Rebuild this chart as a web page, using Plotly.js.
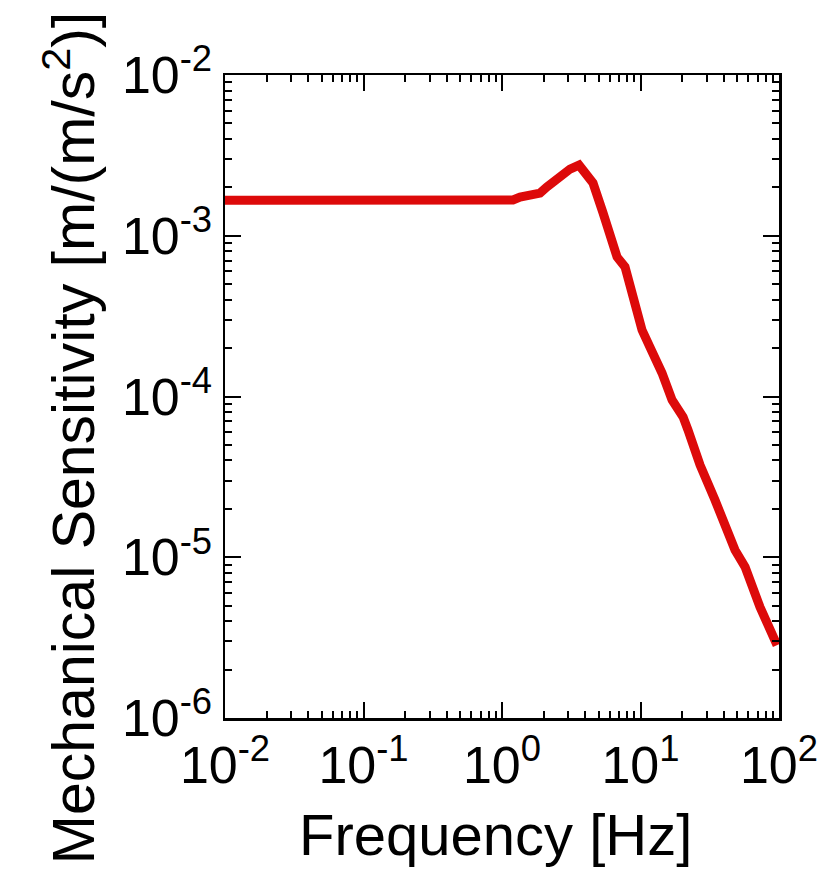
<!DOCTYPE html>
<html>
<head>
<meta charset="utf-8">
<script src="https://cdn.plot.ly/plotly-3.0.1.min.js"></script>
<style>html,body{margin:0;padding:0;background:#fff;}#chart{width:820px;height:872px;}</style>
</head>
<body>
<div id="chart"></div>
<script>
// Frequency [Hz]
var freq = [0.01, 0.02, 0.05, 0.1, 0.2, 0.5, 1.0, 1.20, 1.35, 1.59, 1.88, 2.11, 2.33, 2.62, 3.10, 3.60, 3.97, 4.54, 5.36, 6.33, 6.77, 7.73, 8.83, 10.26, 11.7, 14.3, 16.9, 20.3, 22.0, 26.9, 34.5, 42.2, 48.1, 56.9, 72.9, 96.8];
// Mechanical sensitivity [m/(m/s^2)]
var sens = [1.66e-3, 1.66e-3, 1.66e-3, 1.66e-3, 1.66e-3, 1.66e-3, 1.66e-3, 1.67e-3, 1.74e-3, 1.80e-3, 1.84e-3, 2.01e-3, 2.16e-3, 2.39e-3, 2.60e-3, 2.75e-3, 2.50e-3, 2.13e-3, 1.39e-3, 8.15e-4, 7.38e-4, 6.40e-4, 4.16e-4, 2.59e-4, 2.03e-4, 1.40e-4, 9.5e-5, 7.46e-5, 6.2e-5, 3.75e-5, 2.27e-5, 1.42e-5, 1.11e-5, 8.7e-6, 4.9e-6, 2.84e-6];

var xTickVals = [0.01, 0.1, 1, 10, 100];
var xTickText = ['10<sup>-2</sup>', '10<sup>-1</sup>', '10<sup>0</sup>', '10<sup>1</sup>', '10<sup>2</sup>'];
var yTickVals = [1e-6, 1e-5, 1e-4, 1e-3, 1e-2];
var yTickText = ['10<sup>-6</sup>', '10<sup>-5</sup>', '10<sup>-4</sup>', '10<sup>-3</sup>', '10<sup>-2</sup>'];
var xTitle = 'Frequency [Hz]';
var yTitle = 'Mechanical Sensitivity [m/(m/s<sup>2</sup>)]';

function minorVals(lo, hi) {
  var v = [];
  for (var e = lo; e < hi; e++) {
    for (var m = 2; m <= 9; m++) v.push(m * Math.pow(10, e));
  }
  return v;
}

var font = 'Liberation Sans, Arial, sans-serif';

var trace = {
  x: freq, y: sens, type: 'scatter', mode: 'lines',
  line: {color: '#dd0a0a', width: 9},
  hoverinfo: 'skip'
};

var axisCommon = {
  type: 'log',
  showgrid: false, zeroline: false,
  showline: true, linecolor: '#000', linewidth: 2.5,
  mirror: 'ticks',
  ticks: 'inside', ticklen: 16, tickwidth: 2, tickcolor: '#000',
  tickmode: 'array',
  tickfont: {family: font, size: 52, color: '#000'}
};

var layout = {
  width: 820, height: 872,
  margin: {l: 225, r: 41, t: 75, b: 154, autoexpand: false},
  paper_bgcolor: '#fff', plot_bgcolor: '#fff',
  showlegend: false,
  xaxis: Object.assign({}, axisCommon, {
    range: [-2, 2],
    tickvals: xTickVals, ticktext: xTickText,
    minor: {tickmode: 'array', tickvals: minorVals(-2, 2), ticks: 'inside', ticklen: 7, tickwidth: 2, tickcolor: '#000'}
  }),
  yaxis: Object.assign({}, axisCommon, {
    range: [-6, -2],
    tickvals: yTickVals, ticktext: yTickText,
    minor: {tickmode: 'array', tickvals: minorVals(-6, -2), ticks: 'inside', ticklen: 7, tickwidth: 2, tickcolor: '#000'}
  }),
  annotations: [
    {text: xTitle, xref: 'paper', yref: 'paper', x: 0.488, y: -0.127,
     xanchor: 'center', yanchor: 'top', showarrow: false,
     font: {family: font, size: 58, color: '#000'}},
    {text: yTitle, xref: 'paper', yref: 'paper', x: -0.28, y: 0.435,
     xanchor: 'center', yanchor: 'middle', showarrow: false, textangle: -90,
     font: {family: font, size: 59, color: '#000'}}
  ]
};

Plotly.newPlot('chart', [trace], layout, {staticPlot: true, displayModeBar: false});
</script>
</body>
</html>
